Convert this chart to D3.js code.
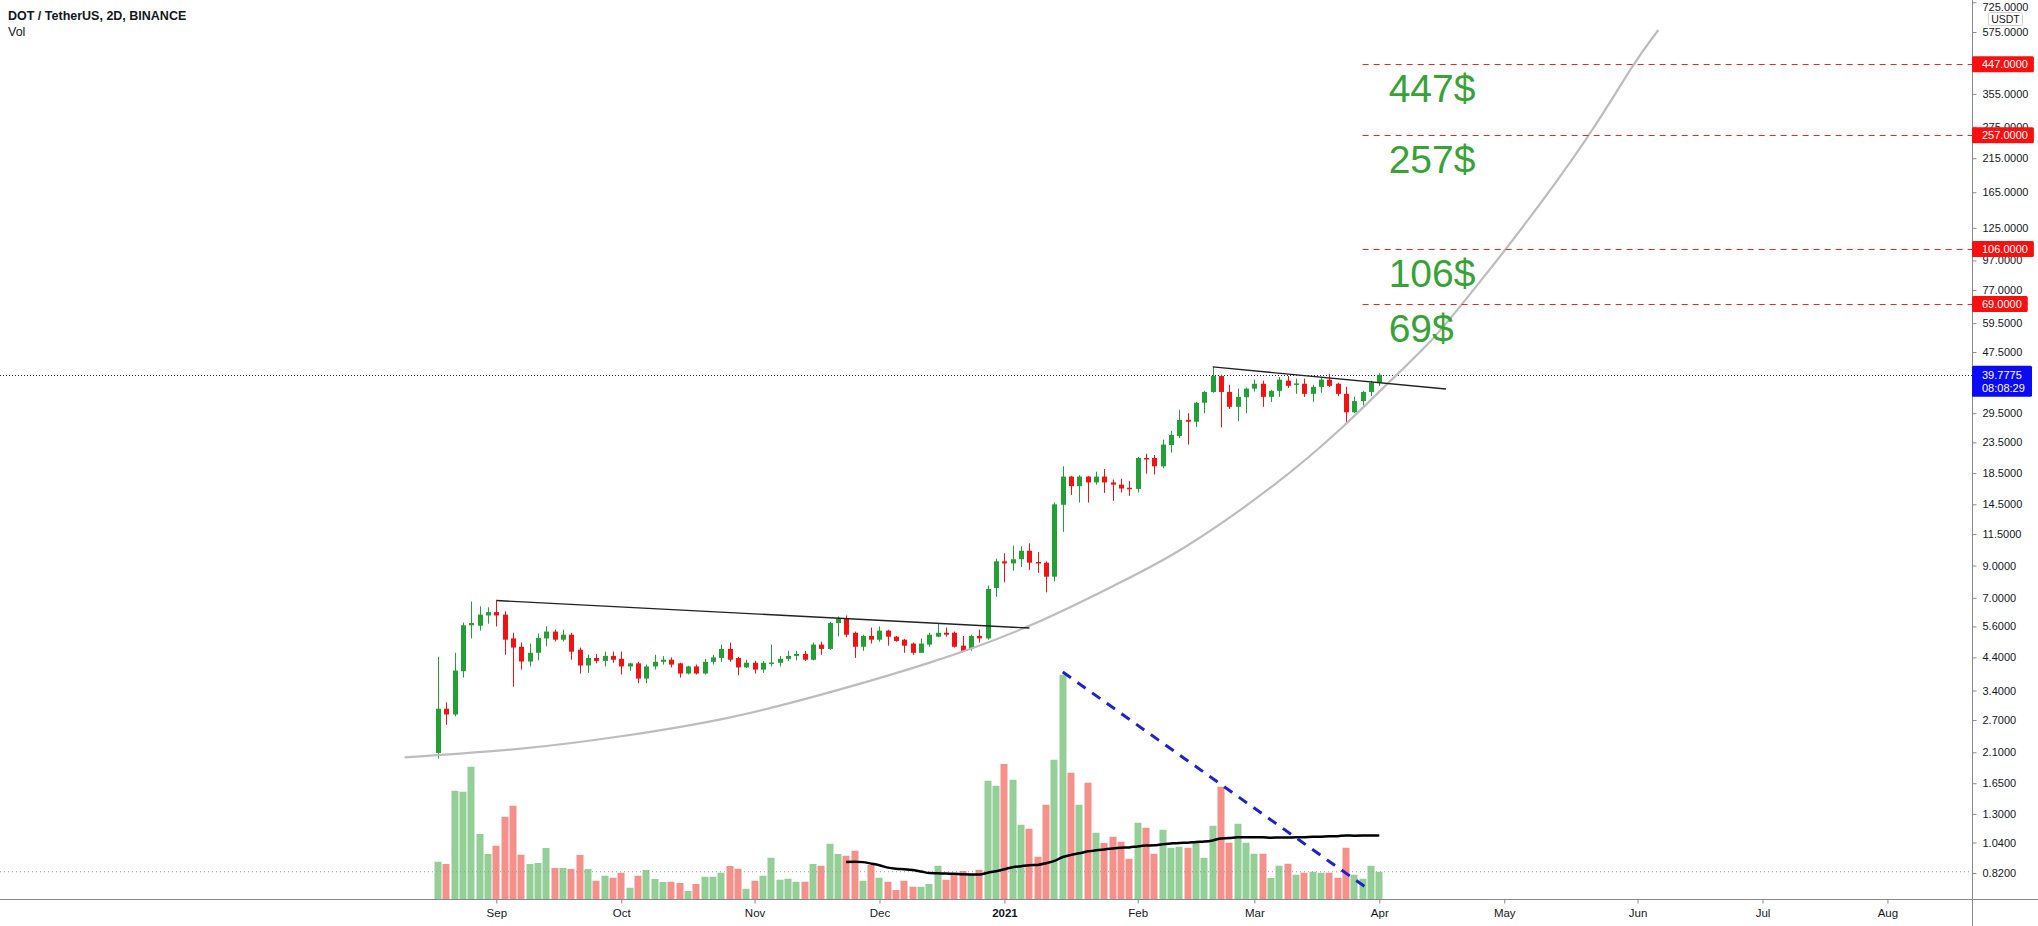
<!DOCTYPE html>
<html>
<head>
<meta charset="utf-8">
<script src="https://cdn.jsdelivr.net/npm/d3@7"></script>
<style>
  html, body { margin: 0; padding: 0; background: #fff; overflow: hidden; }
  svg { display: block; font-family: "Liberation Sans", Arial, sans-serif; }
</style>
</head>
<body>
<script>
// DOT / USDT 2D candles, Binance, 2020-08-18 .. 2021-04-01
const firstBar = "2020-08-18";
const opens = [2.09,2.95,2.82,3.95,5.65,5.63,6.1,6.26,6.14,5.1,
  4.78,4.26,4.56,5.1,5.38,5.05,5.25,4.67,4.13,4.38,
  4.28,4.45,4.35,4.1,4.2,3.73,4.1,4.25,4.32,4.2,
  3.88,4.1,3.88,4.25,4.38,4.7,4.38,4.07,4.22,4.0,
  4.2,4.22,4.35,4.45,4.52,4.32,4.86,4.7,5.75,5.95,
  5.33,4.78,5.2,5.05,5.42,5.17,5.05,4.9,4.56,4.86,
  5.17,5.33,5.33,4.82,4.7,5.2,5.1,7.55,9.3,9.15,
  9.45,10.1,9.25,9.2,8.25,14.45,18.0,16.7,18.0,17.2,
  18.0,17.2,16.9,16.5,16.35,20.8,20.8,19.5,23.0,24.7,
  28.0,27.6,32.0,34.8,39.4,34.8,31.0,33.4,35.7,37.1,
  33.5,35.1,38.0,36.9,37.1,34.3,36.2,38.3,37.1,34.3,
  29.7,32.4,34.8,37.4];
const highs = [4.42,3.1,4.56,5.77,6.8,6.55,6.5,6.85,6.3,5.33,
  4.94,4.9,5.3,5.6,5.46,5.46,5.33,4.75,4.49,4.52,
  4.6,4.6,4.6,4.22,4.25,4.16,4.49,4.45,4.4,4.22,
  4.12,4.16,4.35,4.49,4.86,4.94,4.42,4.32,4.28,4.28,
  4.86,4.45,4.63,4.63,4.63,4.94,4.97,5.8,6.05,6.1,
  5.38,5.25,5.55,5.6,5.46,5.2,5.08,4.94,5.1,5.33,
  5.75,5.55,5.38,5.2,5.25,5.46,7.7,9.5,9.9,10.5,
  10.45,10.7,10.0,9.3,14.7,19.5,18.1,18.2,18.1,18.7,
  19.1,17.6,17.7,17.4,21.0,21.5,21.3,24.0,25.7,30.3,
  29.5,32.2,35.1,42.3,39.8,36.8,35.7,36.0,38.3,38.0,
  35.4,39.1,39.4,38.6,38.6,36.8,39.1,40.1,37.4,36.2,
  33.5,35.1,38.0,40.3];
const lows = [2.0,2.6,2.78,3.76,5.1,5.42,5.72,5.6,4.49,3.5,
  4.0,4.1,4.3,4.8,4.98,4.98,4.32,3.88,3.9,4.2,
  4.1,4.22,3.85,3.96,3.6,3.6,4.0,4.16,4.07,3.76,
  3.85,3.85,3.85,4.16,4.25,4.25,3.83,4.05,3.88,3.9,
  4.1,4.1,4.28,4.3,4.28,4.3,4.49,4.67,5.18,5.15,
  4.38,4.63,4.9,4.97,4.82,4.97,4.56,4.49,4.56,4.78,
  5.15,5.17,4.75,4.6,4.63,4.94,5.05,7.05,7.9,8.65,
  8.9,8.7,8.5,7.3,7.95,11.7,15.6,14.7,14.7,16.9,
  15.85,14.9,15.9,15.5,15.9,18.4,18.3,19.2,21.7,24.3,
  23.1,26.5,29.5,34.6,26.4,30.5,27.7,29.5,34.9,31.0,
  32.2,33.5,35.9,34.3,33.5,32.2,34.6,36.2,33.7,27.2,
  29.5,31.3,33.7,36.5];
const closes = [2.95,2.82,3.97,5.65,5.75,6.14,6.26,6.1,5.05,4.75,
  4.26,4.56,5.12,5.38,5.05,5.25,4.6,4.13,4.38,4.28,
  4.45,4.32,4.1,4.2,3.73,4.1,4.25,4.32,4.16,3.88,
  4.1,3.88,4.25,4.4,4.7,4.32,4.07,4.22,4.0,4.22,
  4.23,4.35,4.45,4.52,4.32,4.86,4.7,5.75,5.95,5.25,
  4.78,5.2,5.05,5.42,5.17,5.0,4.82,4.56,4.9,5.25,
  5.33,5.25,4.78,4.63,5.2,5.1,7.5,9.3,9.15,9.45,
  10.1,9.2,9.15,8.25,14.5,18.0,16.7,18.0,17.2,18.0,
  17.2,16.9,16.4,16.35,20.8,20.6,19.5,23.1,24.9,28.0,
  27.6,32.0,34.8,39.4,34.8,31.0,33.5,35.7,37.1,33.5,
  35.1,38.3,36.5,37.2,34.3,36.2,38.3,36.5,34.3,29.7,
  32.4,34.8,37.4,39.7775];
// volume, millions of DOT
const volumes = [14.9,14.0,43.3,42.9,52.9,26.0,18.0,21.3,32.9,37.3,
  17.7,14.0,14.4,20.4,12.4,12.4,12.0,17.6,12.0,7.3,
  9.3,8.5,10.5,4.5,9.3,11.6,8.0,6.8,6.9,6.4,
  3.2,6.0,8.9,8.9,10.5,13.2,12.1,4.1,7.3,9.3,
  16.5,7.7,8.1,6.9,6.9,14.0,13.3,22.1,18.0,17.3,
  19.3,7.3,13.6,8.5,6.9,3.6,7.3,4.9,4.9,6.0,
  13.3,7.7,9.6,11.2,9.6,11.7,47.3,45.3,54.0,47.7,
  29.7,28.1,16.9,37.7,55.7,89.7,50.5,37.7,46.5,26.5,
  22.4,24.9,22.9,16.1,30.5,28.5,18.1,27.7,20.5,20.9,
  20.5,22.5,16.5,29.3,44.9,22.5,30.1,22.5,18.1,18.1,
  8.4,13.3,14.1,9.7,10.5,10.9,10.5,10.5,8.5,20.5,
  9.7,8.1,13.3,10.9];
const maLength = 50;

const priceTicks = [725,575,355,275,215,165,125,97,77,59.5,47.5,29.5,23.5,18.5,
  14.5,11.5,9,7,5.6,4.4,3.4,2.7,2.1,1.65,1.3,1.04,0.82];
const monthTicks = ["2020-09-01","2020-10-01","2020-11-01","2020-12-01","2021-01-01","2021-02-01",
  "2021-03-01","2021-04-01","2021-05-01","2021-06-01","2021-07-01","2021-08-01"];
const monthLabels = ["Sep","Oct","Nov","Dec","2021","Feb","Mar","Apr","May","Jun","Jul","Aug"];

const targetPrices = [447, 257, 106, 69];
const targetLabels = ["447$", "257$", "106$", "69$"];
const targetStart = "2021-03-28";

const lastPrice = 39.7775;
const countdown = "08:08:29";

// drawings
const trend1Dates = ["2020-09-01", "2021-01-07"];
const trend1Prices = [6.85, 5.53];
const trend2Dates = ["2021-02-20", "2021-04-17"];
const trend2Prices = [42.3, 35.6];
const volTrendDates = ["2021-01-15", "2021-03-30"];
const volTrendValues = [90.8, 3.2];
const arcDates = ["2020-08-10","2020-09-07","2020-10-01","2020-10-27","2020-11-18","2020-12-14",
  "2021-01-07","2021-01-29","2021-02-12","2021-03-08","2021-03-24","2021-04-03","2021-04-14",
  "2021-04-21","2021-05-02","2021-05-22","2021-06-01","2021-06-07"];
const arcPrices = [2.02,2.14,2.37,2.72,3.28,4.18,5.53,7.92,9.92,17.1,26.9,37.3,52.2,
  69.6,107.7,259.6,451.7,584];

const W = 2038, H = 926, axisX = 1972, baseY = 899;
const green = "#22a036", red = "#f21212";
const volGreen = "#95cf98", volRed = "#f5918a";

const parseDate = d3.utcParse("%Y-%m-%d");
const start = parseDate(firstBar);
const bars = opens.map((o, i) => ({
  date: d3.utcDay.offset(start, 2 * i),
  open: o, high: highs[i], low: lows[i], close: closes[i], volume: volumes[i]
}));
bars.forEach((d, i) => {
  d.ma = i < maLength - 1 ? null : d3.mean(bars.slice(i - maLength + 1, i + 1), b => b.volume);
});

let x = d3.scaleUtc([start, parseDate("2021-04-01")], [438, 1379.3]);
let y = d3.scaleLog([0.82, 575], [873, 32]);
let v = d3.scaleLinear([0, 200], [baseY, 399]);

// time labels sit on the first bar of the month
function snap(s) {
  const days = (parseDate(s) - start) / 864e5;
  return d3.utcDay.offset(start, Math.ceil(days / 2) * 2);
}

const svg = d3.select("body").append("svg").attr("width", W).attr("height", H);
svg.append("rect").attr("width", W).attr("height", H).attr("fill", "#fff");
svg.append("defs").append("clipPath").attr("id", "plot")
  .append("rect").attr("width", axisX).attr("height", baseY);
const plot = svg.append("g").attr("clip-path", "url(#plot)");

// volume
plot.append("g").selectAll("rect").data(bars).enter().append("rect")
  .attr("x", d => Math.round(x(d.date)) - 3.5)
  .attr("width", 7)
  .attr("y", d => v(d.volume))
  .attr("height", d => baseY - v(d.volume))
  .attr("fill", d => d.close >= d.open ? volGreen : volRed);

plot.append("line")
  .attr("x1", 0).attr("x2", axisX)
  .attr("y1", v(volumes[volumes.length - 1])).attr("y2", v(volumes[volumes.length - 1]))
  .attr("stroke", "#999").attr("stroke-dasharray", "1,3");

plot.append("path")
  .datum(bars.filter(d => d.ma !== null))
  .attr("fill", "none").attr("stroke", "#000").attr("stroke-width", 2.5)
  .attr("d", d3.line().x(d => x(d.date)).y(d => v(d.ma)).curve(d3.curveMonotoneX));

// last price line
plot.append("line")
  .attr("x1", 0).attr("x2", axisX)
  .attr("y1", Math.round(y(lastPrice)) + 0.5).attr("y2", Math.round(y(lastPrice)) + 0.5)
  .attr("stroke", "#1b1f5c").attr("stroke-dasharray", "1,2");

// candles
const candle = plot.append("g").selectAll("g").data(bars).enter().append("g")
  .attr("fill", d => d.close >= d.open ? green : red)
  .attr("stroke", d => d.close >= d.open ? green : red);
candle.append("line")
  .attr("x1", d => Math.round(x(d.date)) + 0.5).attr("x2", d => Math.round(x(d.date)) + 0.5)
  .attr("y1", d => y(d.high)).attr("y2", d => y(d.low))
  .attr("stroke-width", 1);
candle.append("rect")
  .attr("x", d => Math.round(x(d.date)) - 2)
  .attr("width", 5)
  .attr("y", d => y(Math.max(d.open, d.close)))
  .attr("height", d => Math.max(1.5, Math.abs(y(d.open) - y(d.close))))
  .attr("stroke", "none");

// drawings
const pline = d3.line().x(d => x(parseDate(d[0]))).y(d => y(d[1]));
plot.append("path")
  .datum(arcDates.map((d, i) => [d, arcPrices[i]]))
  .attr("fill", "none").attr("stroke", "#bdbdbd").attr("stroke-width", 2.2)
  .attr("d", pline.curve(d3.curveBasis));
pline.curve(d3.curveLinear);
[[trend1Dates, trend1Prices], [trend2Dates, trend2Prices]].forEach(([ds, ps]) => {
  plot.append("path")
    .datum(ds.map((d, i) => [d, ps[i]]))
    .attr("fill", "none").attr("stroke", "#222").attr("stroke-width", 1.4)
    .attr("d", pline);
});
plot.append("line")
  .attr("x1", x(parseDate(volTrendDates[0]))).attr("y1", v(volTrendValues[0]))
  .attr("x2", x(parseDate(volTrendDates[1]))).attr("y2", v(volTrendValues[1]))
  .attr("stroke", "#1c22cc").attr("stroke-width", 3).attr("stroke-dasharray", "10,8");

// price targets
const tx = x(parseDate(targetStart));
targetPrices.forEach((p, i) => {
  plot.append("line")
    .attr("x1", tx).attr("x2", axisX)
    .attr("y1", Math.round(y(p)) + 0.5).attr("y2", Math.round(y(p)) + 0.5)
    .attr("stroke", "#e82a22").attr("stroke-width", 1.2).attr("stroke-dasharray", "6,5");
  plot.append("text")
    .attr("x", tx + 26).attr("y", y(p) + 38)
    .attr("font-size", 39).attr("fill", "#37a336")
    .text(targetLabels[i]);
});

// title
svg.append("text").attr("x", 8).attr("y", 20)
  .attr("font-size", 12.5).attr("font-weight", "bold").attr("fill", "#131722")
  .text("DOT / TetherUS, 2D, BINANCE");
svg.append("text").attr("x", 8).attr("y", 36)
  .attr("font-size", 12.5).attr("fill", "#131722")
  .text("Vol");

// axes
svg.append("line").attr("x1", 0).attr("x2", W).attr("y1", baseY + 0.5).attr("y2", baseY + 0.5)
  .attr("stroke", "#8a8a8a");
svg.append("line").attr("x1", axisX + 0.5).attr("x2", axisX + 0.5).attr("y1", 0).attr("y2", H)
  .attr("stroke", "#8a8a8a");

const yAxis = svg.append("g")
  .attr("transform", "translate(" + (axisX + 0.5) + ",0)")
  .call(d3.axisRight(y).tickValues(priceTicks).tickFormat(d3.format(".4f")).tickSize(4).tickPadding(6));
yAxis.select(".domain").remove();
yAxis.selectAll(".tick line").attr("stroke", "#8a8a8a");
yAxis.selectAll(".tick text").attr("font-size", 11).attr("fill", "#131722")
  .attr("font-family", "Liberation Sans, Arial, sans-serif");
// keep the top label inside the picture
yAxis.selectAll(".tick text").filter(d => y(d) < 6).attr("dy", "0.75em");

const xAxis = svg.append("g")
  .attr("transform", "translate(0," + (baseY + 0.5) + ")")
  .call(d3.axisBottom(x).tickValues(monthTicks.map(snap))
    .tickFormat((d, i) => monthLabels[i]).tickSize(4).tickPadding(5));
xAxis.select(".domain").remove();
xAxis.selectAll(".tick line").attr("stroke", "#8a8a8a");
xAxis.selectAll(".tick text").attr("font-size", 11.5).attr("fill", "#131722")
  .attr("font-family", "Liberation Sans, Arial, sans-serif")
  .attr("font-weight", (d, i) => monthLabels[i] === "2021" ? "bold" : "normal");

// USDT badge
svg.append("rect").attr("x", 1988.5).attr("y", 12.5).attr("width", 34).attr("height", 13).attr("rx", 2)
  .attr("fill", "#fff").attr("stroke", "#d0d0d0");
svg.append("text").attr("x", 2005.5).attr("y", 23).attr("text-anchor", "middle")
  .attr("font-size", 10.5).attr("fill", "#131722").text("USDT");

// axis price labels
function axisLabel(p, fill) {
  const g = svg.append("g");
  const t = g.append("text").attr("x", axisX + 10).attr("y", y(p) + 4)
    .attr("font-size", 11).attr("fill", "#fff").text(d3.format(".4f")(p));
  const w = t.node().getComputedTextLength();
  g.insert("rect", "text").attr("x", axisX).attr("y", y(p) - 8).attr("width", w + 16).attr("height", 16)
    .attr("rx", 1.5).attr("fill", fill);
}
targetPrices.forEach(p => axisLabel(p, "#f71010"));

const lp = svg.append("g");
lp.append("rect").attr("x", axisX).attr("y", y(lastPrice) - 9).attr("width", 60).attr("height", 31)
  .attr("rx", 1.5).attr("fill", "#0a0af5");
lp.append("text").attr("x", axisX + 10).attr("y", y(lastPrice) + 4)
  .attr("font-size", 11).attr("fill", "#fff").text(d3.format(".4f")(lastPrice));
lp.append("text").attr("x", axisX + 10).attr("y", y(lastPrice) + 17)
  .attr("font-size", 11).attr("fill", "#fff").text(countdown);
</script>
</body>
</html>
